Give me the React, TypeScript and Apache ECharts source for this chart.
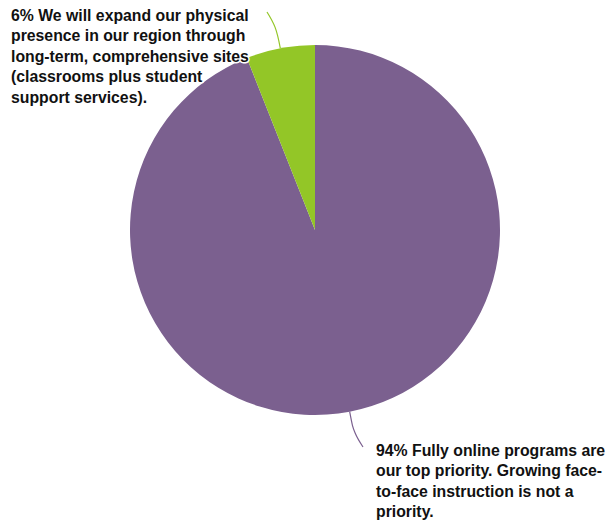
import React, { useEffect, useRef } from "react";
import * as echarts from "echarts";

const categories: string[] = [
  "94% Fully online programs are\nour top priority. Growing face-\nto-face instruction is not a\npriority.",
  "6% We will expand our physical\npresence in our region through\nlong-term, comprehensive sites\n(classrooms plus student\nsupport services).",
];
const values: number[] = [94, 6];
const colors: string[] = ["#7b608f", "#93c627"];

export default function App() {
  const ref = useRef<HTMLDivElement>(null);
  useEffect(() => {
    document.body.style.margin = "0";
    const chart = echarts.init(ref.current!, undefined, { renderer: "svg" });
    const labelPos = [
      { x: 376, y: 440, end: [363, 447] },
      { x: 11, y: 5, end: [267, 12] },
    ];
    chart.setOption({
      animation: false,
      backgroundColor: "#ffffff",
      series: [
        {
          type: "pie",
          center: [315, 230],
          radius: [0, 185],
          startAngle: 90,
          clockwise: true,
          data: categories.map((name, i) => ({
            name,
            value: values[i],
            itemStyle: { color: colors[i] },
            labelLine: { lineStyle: { color: colors[i] } },
          })),
          label: {
            show: true,
            position: "outside",
            formatter: "{b}",
            color: "#111111",
            fontFamily: "'Liberation Sans', Arial, sans-serif",
            fontWeight: "bold",
            fontSize: 15.8,
            lineHeight: 20.5,
            textBorderColor: "#ffffff",
            textBorderWidth: 3,
            align: "left",
          },
          labelLine: {
            show: true,
            length: 20,
            length2: 10,
            smooth: 0.4,
            lineStyle: { width: 1.2 },
          },
          labelLayout: (params: any) => {
            const p = labelPos[params.dataIndex];
            const pts = params.labelLinePoints;
            let linePts: number[][] | undefined;
            if (pts && pts.length >= 2) {
              const s = pts[0];
              const m = pts[1];
              const dx = m[0] - s[0];
              const dy = m[1] - s[1];
              const len = Math.sqrt(dx * dx + dy * dy) || 1;
              const mid = [s[0] + (dx / len) * 22, s[1] + (dy / len) * 22];
              linePts = [s, mid, p.end];
            }
            return {
              x: p.x,
              y: p.y,
              align: "left",
              verticalAlign: "top",
              labelLinePoints: linePts,
            };
          },
          emphasis: { disabled: true },
        },
      ],
    });
    return () => chart.dispose();
  }, []);
  return <div ref={ref} style={{ width: 611, height: 522 }} />;
}
